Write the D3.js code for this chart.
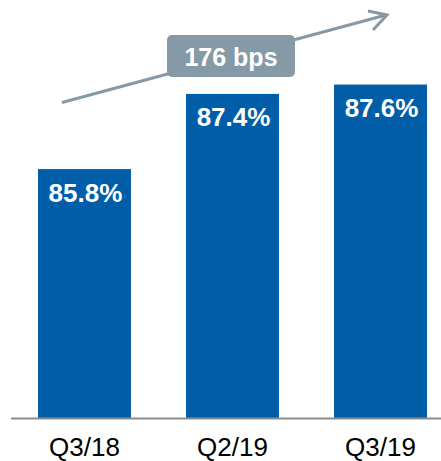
<!DOCTYPE html>
<html>
<head>
<meta charset="utf-8">
<script src="https://cdn.jsdelivr.net/npm/d3@7"></script>
<style>
  body { margin: 0; background: #fff; }
  text { font-family: "Liberation Sans", Arial, sans-serif; }
</style>
</head>
<body>
<div id="chart"></div>
<script>
const categories = ["Q3/18", "Q2/19", "Q3/19"];
const values = [85.8, 87.4, 87.6];
const valueLabels = ["85.8%", "87.4%", "87.6%"];
const changeLabel = "176 bps";

const width = 441, height = 461;
const baseline = 418;

const svg = d3.select("#chart").append("svg")
  .attr("width", width)
  .attr("height", height);

const x = d3.scaleBand()
  .domain(categories)
  .range([38, 427])
  .paddingInner(0.372)
  .paddingOuter(0);

const y = d3.scaleLinear()
  .domain([80.5, 89.4])
  .range([baseline, 0]);

// bars
svg.selectAll("rect.bar")
  .data(values)
  .enter()
  .append("rect")
  .attr("class", "bar")
  .attr("x", (d, i) => x(categories[i]))
  .attr("y", d => y(d))
  .attr("width", x.bandwidth())
  .attr("height", d => baseline - y(d))
  .attr("fill", "#005ea8");

// value labels inside bars
svg.selectAll("text.val")
  .data(values)
  .enter()
  .append("text")
  .attr("class", "val")
  .attr("x", (d, i) => x(categories[i]) + x.bandwidth() / 2 + 1)
  .attr("y", d => y(d) + 32.5)
  .attr("text-anchor", "middle")
  .attr("fill", "#fff")
  .attr("font-weight", "bold")
  .attr("font-size", "26px")
  .text((d, i) => valueLabels[i]);

// axis line
svg.append("line")
  .attr("x1", 11).attr("x2", width)
  .attr("y1", baseline + 0.5).attr("y2", baseline + 0.5)
  .attr("stroke", "#8c8c8c")
  .attr("stroke-width", 2);

// category labels
svg.selectAll("text.cat")
  .data(categories)
  .enter()
  .append("text")
  .attr("class", "cat")
  .attr("x", d => x(d) + x.bandwidth() / 2)
  .attr("y", 456)
  .attr("text-anchor", "middle")
  .attr("fill", "#000")
  .attr("font-size", "26px")
  .text(d => d);

// trend arrow
const arrowColor = "#8599a6";
svg.append("line")
  .attr("x1", 62).attr("y1", 102.5)
  .attr("x2", 386).attr("y2", 15)
  .attr("stroke", arrowColor)
  .attr("stroke-width", 3);
svg.append("polyline")
  .attr("points", "368,11 387,15 373,30")
  .attr("fill", "none")
  .attr("stroke", arrowColor)
  .attr("stroke-width", 3);

// change label box
const box = svg.append("g").attr("transform", "translate(167,35)");
box.append("rect")
  .attr("width", 128)
  .attr("height", 42)
  .attr("rx", 5)
  .attr("fill", arrowColor);
box.append("text")
  .attr("x", 64)
  .attr("y", 31)
  .attr("text-anchor", "middle")
  .attr("fill", "#fff")
  .attr("font-weight", "bold")
  .attr("font-size", "25px")
  .text(changeLabel);
</script>
</body>
</html>
